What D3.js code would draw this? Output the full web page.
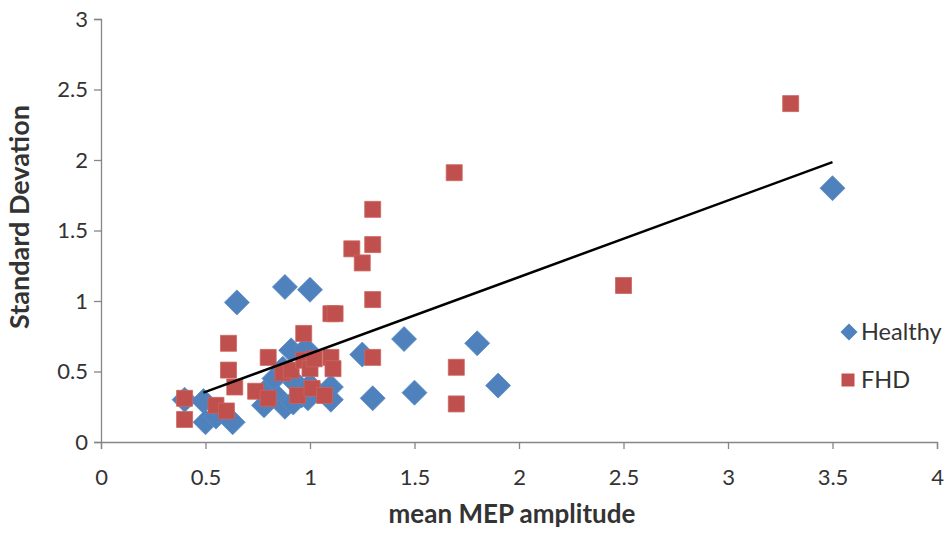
<!DOCTYPE html>
<html>
<head>
<meta charset="utf-8">
<script src="https://cdn.jsdelivr.net/npm/d3@7"></script>
<style>
  body { margin: 0; background: #fff; }
  svg text { font-family: Lato, "Open Sans", sans-serif; fill: #333; }
</style>
</head>
<body>
<svg id="chart" width="949" height="536"></svg>
<script>
// Healthy group: mean MEP amplitude vs standard deviation
const healthyX = [0.40, 0.49, 0.50, 0.55, 0.63, 0.65, 0.78, 0.80, 0.83, 0.85, 0.87, 0.88, 0.88, 0.91, 0.92,
  0.93, 0.96, 0.98, 0.99, 1.00, 1.00, 1.10, 1.10, 1.25, 1.30, 1.45, 1.50, 1.80, 1.90, 3.50];
const healthyY = [0.30, 0.29, 0.14, 0.18, 0.14, 0.99, 0.26, 0.38, 0.45, 0.31, 0.52, 1.10, 0.25, 0.65, 0.28,
  0.42, 0.33, 0.66, 0.31, 1.08, 0.40, 0.39, 0.30, 0.62, 0.31, 0.73, 0.35, 0.70, 0.40, 1.80];

// FHD group
const fhdX = [0.40, 0.40, 0.55, 0.60, 0.61, 0.61, 0.64, 0.74, 0.80, 0.80, 0.87, 0.91, 0.94, 0.97, 0.97,
  1.00, 1.01, 1.02, 1.07, 1.10, 1.12, 1.10, 1.11, 1.20, 1.25, 1.30, 1.30, 1.30, 1.30, 1.69, 1.70, 1.70, 2.50, 3.30];
const fhdY = [0.31, 0.16, 0.26, 0.22, 0.70, 0.51, 0.39, 0.36, 0.60, 0.31, 0.49, 0.51, 0.33, 0.77, 0.58,
  0.52, 0.38, 0.59, 0.33, 0.91, 0.91, 0.60, 0.52, 1.37, 1.27, 1.65, 1.40, 1.01, 0.60, 1.91, 0.53, 0.27, 1.11, 2.40];

// Linear trendline
const trendSlope = 0.543;
const trendIntercept = 0.084;
const trendRange = [0.49, 3.50];

const xTicks = [0, 0.5, 1, 1.5, 2, 2.5, 3, 3.5, 4];
const yTicks = [0, 0.5, 1, 1.5, 2, 2.5, 3];
const seriesNames = ["Healthy", "FHD"];

const healthy = healthyX.map((x, i) => ({ x, y: healthyY[i] }));
const fhd = fhdX.map((x, i) => ({ x, y: fhdY[i] }));

const svg = d3.select("#chart");
const margin = { top: 19, right: 12, bottom: 94, left: 101 };
const width = 949, height = 536;

const x = d3.scaleLinear().domain([0, 4]).range([margin.left, width - margin.right]);
const y = d3.scaleLinear().domain([0, 3]).range([height - margin.bottom, margin.top]);

const axisColor = "#868686";

// Axes
const xAxis = svg.append("g")
  .attr("transform", `translate(0,${y(0)})`)
  .call(d3.axisBottom(x).tickValues(xTicks).tickSize(7).tickPadding(20).tickFormat(d3.format("")));
const yAxis = svg.append("g")
  .attr("transform", `translate(${x(0)},0)`)
  .call(d3.axisLeft(y).tickValues(yTicks).tickSize(7).tickPadding(6).tickFormat(d3.format("")));

[xAxis, yAxis].forEach(g => {
  g.select(".domain").attr("stroke", axisColor).attr("stroke-width", 1.3);
  g.selectAll(".tick line").attr("stroke", axisColor).attr("stroke-width", 1.3);
  g.selectAll(".tick text").attr("font-size", 22).attr("fill", "#333")
    .style("font-family", "Lato, 'Open Sans', sans-serif");
});

// Axis titles
svg.append("text")
  .attr("x", 512)
  .attr("y", 523)
  .attr("text-anchor", "middle")
  .attr("font-size", 26)
  .attr("font-weight", "bold")
  .text("mean MEP amplitude");

svg.append("text")
  .attr("transform", "translate(29,217) rotate(-90)")
  .attr("text-anchor", "middle")
  .attr("font-size", 27)
  .attr("font-weight", "bold")
  .text("Standard Devation");

const blue = "#4F81BD";
const red = "#C0504D";
const diamond = "M0,-12.5L12.5,0L0,12.5L-12.5,0Z";
const square = "M-8,-8H8V8H-8Z";

// Healthy diamonds
svg.append("g")
  .selectAll("path")
  .data(healthy)
  .join("path")
    .attr("d", diamond)
    .attr("transform", d => `translate(${x(d.x)},${y(d.y)})`)
    .attr("fill", blue)
    .attr("stroke", "#5b8cc6")
    .attr("stroke-width", 0.8);

// FHD squares
svg.append("g")
  .selectAll("path")
  .data(fhd)
  .join("path")
    .attr("d", square)
    .attr("transform", d => `translate(${x(d.x)},${y(d.y)})`)
    .attr("fill", red)
    .attr("stroke", "#cc6461")
    .attr("stroke-width", 0.8);

// Trendline
svg.append("line")
  .attr("x1", x(trendRange[0]))
  .attr("y1", y(trendSlope * trendRange[0] + trendIntercept))
  .attr("x2", x(trendRange[1]))
  .attr("y2", y(trendSlope * trendRange[1] + trendIntercept))
  .attr("stroke", "#000")
  .attr("stroke-width", 2.5);

// Legend
const legend = svg.append("g").attr("transform", "translate(849,332)");
legend.append("path").attr("d", "M0,-8.5L8.5,0L0,8.5L-8.5,0Z").attr("fill", blue);
legend.append("path").attr("d", "M-6.5,-6.5H6.5V6.5H-6.5Z").attr("transform", "translate(-1,48)").attr("fill", red);
legend.selectAll("text")
  .data(seriesNames)
  .join("text")
    .attr("x", 12)
    .attr("y", (d, i) => i * 48)
    .attr("dy", "0.36em")
    .attr("font-size", 23.5)
    .text(d => d);
</script>
</body>
</html>
